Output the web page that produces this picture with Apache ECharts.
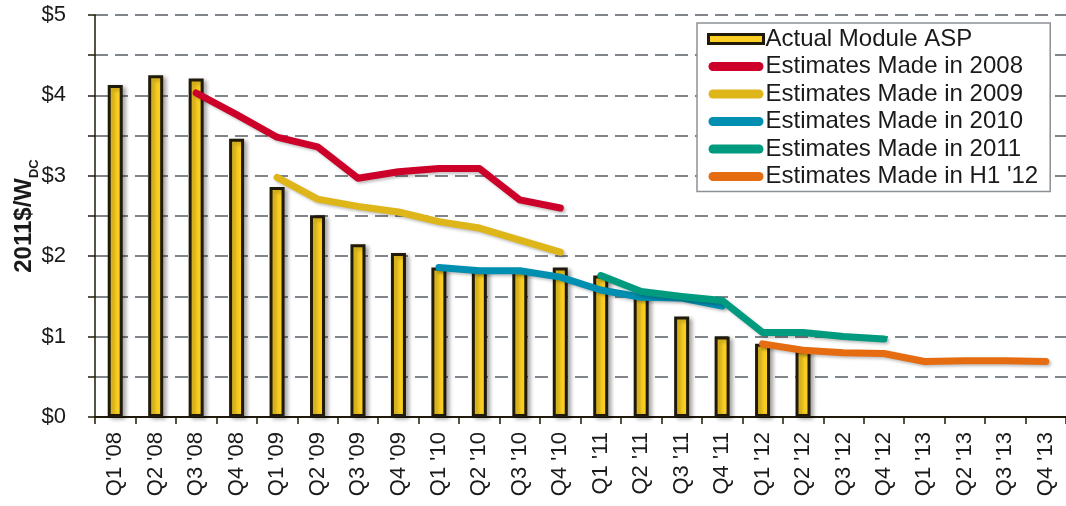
<!DOCTYPE html>
<html>
<head>
<meta charset="utf-8">
<script src="https://cdn.jsdelivr.net/npm/echarts@6/dist/echarts.min.js"></script>
<style>
html,body{margin:0;padding:0;background:#fff;}
#chart{width:1066px;height:506px;}
</style>
</head>
<body>
<div id="chart"></div>
<script>
var categories = ["Q1 '08","Q2 '08","Q3 '08","Q4 '08","Q1 '09","Q2 '09","Q3 '09","Q4 '09","Q1 '10","Q2 '10","Q3 '10","Q4 '10","Q1 '11","Q2 '11","Q3 '11","Q4 '11","Q1 '12","Q2 '12","Q3 '12","Q4 '12","Q1 '13","Q2 '13","Q3 '13","Q4 '13"];
var actualASP = [4.13,4.25,4.21,3.46,2.86,2.51,2.15,2.04,1.86,1.83,1.83,1.86,1.76,1.52,1.25,1.00,0.91,0.83,null,null,null,null,null,null];
var est2008 = [null,null,4.03,3.76,3.48,3.36,2.97,3.05,3.09,3.09,2.70,2.60,null,null,null,null,null,null,null,null,null,null,null,null];
var est2009 = [null,null,null,null,2.98,2.71,2.62,2.55,2.43,2.35,2.20,2.05,null,null,null,null,null,null,null,null,null,null,null,null];
var est2010 = [null,null,null,null,null,null,null,null,1.86,1.82,1.82,1.74,1.58,1.49,1.48,1.38,null,null,null,null,null,null,null,null];
var est2011 = [null,null,null,null,null,null,null,null,null,null,null,null,1.76,1.56,1.50,1.45,1.05,1.05,1.00,0.97,null,null,null,null];
var estH112 = [null,null,null,null,null,null,null,null,null,null,null,null,null,null,null,null,0.91,0.83,0.80,0.79,0.69,0.70,0.70,0.69];
var yTicks = [0,1,2,3,4,5];
var seriesNames = ['Actual Module ASP','Estimates Made in 2008','Estimates Made in 2009','Estimates Made in 2010','Estimates Made in 2011',"Estimates Made in H1 '12"];
var lineColors = ['#cc0029','#dfb61a','#008fb1','#009b7e','#e56c10'];

var FONT = "'Liberation Sans', Arial, sans-serif";
var TXT = '#1a1a1a';
var capsule = 'path://M4.5,0 L50.5,0 A4.5,4.5 0 0 1 50.5,9 L4.5,9 A4.5,4.5 0 0 1 4.5,0 Z';

function lineSeries(name, data, color) {
  return {
    name: name, type: 'line', data: data, symbol: 'none', connectNulls: false,
    lineStyle: {color: color, width: 7, cap: 'round', join: 'round',
      shadowColor: 'rgba(0,0,0,0.25)', shadowBlur: 3, shadowOffsetX: 2, shadowOffsetY: 2},
    itemStyle: {color: color}, z: 3
  };
}

var chart = echarts.init(document.getElementById('chart'), null, {renderer: 'canvas'});
var legendData = [{name: seriesNames[0], icon: 'rect', itemStyle: {color: '#fcd022', borderColor: '#1f1a0a', borderWidth: 3}}];
for (var i = 0; i < 5; i++) legendData.push({name: seriesNames[i + 1], icon: capsule, itemStyle: {color: lineColors[i]}});

chart.setOption({
  animation: false,
  backgroundColor: '#ffffff',
  textStyle: {fontFamily: FONT},
  grid: {left: 95, right: 0, top: 15, bottom: 89, containLabel: false, outerBoundsMode: 'none'},
  legend: {
    orient: 'vertical', left: 697, top: 23,
    data: legendData,
    itemWidth: 55, itemHeight: 9, itemGap: 3.5,
    padding: [4, 12, 3, 10],
    borderColor: '#8c9196', borderWidth: 1.5, backgroundColor: '#fff',
    textStyle: {fontSize: 24, color: TXT, fontFamily: FONT, padding: [0, 0, 0, -3]}
  },
  xAxis: {
    type: 'category', data: categories, boundaryGap: true,
    axisLine: {lineStyle: {color: '#1f1a0a', width: 2}},
    axisTick: {show: true, alignWithLabel: false, length: 7, lineStyle: {color: '#1f1a0a', width: 1.5}},
    axisLabel: {rotate: 90, fontSize: 22, color: TXT, margin: 15, interval: 0, fontFamily: FONT},
    splitLine: {show: false}
  },
  yAxis: {
    type: 'value', min: 0, max: 5, interval: 0.5,
    name: '{a|2011$/W}{b|DC}', nameLocation: 'middle', nameGap: 59, nameRotate: 90,
    nameMoveOverlap: false,
    nameTextStyle: {
      rich: {
        a: {fontSize: 24, fontWeight: 'bold', color: TXT, fontFamily: FONT, lineHeight: 28, verticalAlign: 'bottom'},
        b: {fontSize: 13, fontWeight: 'bold', color: TXT, fontFamily: FONT, lineHeight: 28, verticalAlign: 'bottom', padding: [0, 0, -5, 0]}
      }
    },
    axisLine: {show: true, lineStyle: {color: '#1f1a0a', width: 1.5}},
    axisTick: {show: true, length: 7, lineStyle: {color: '#1f1a0a', width: 1.5}},
    axisLabel: {
      fontSize: 22, color: TXT, margin: 29, fontFamily: FONT,
      formatter: function (v) { return yTicks.indexOf(v) >= 0 ? '$' + v : ''; }
    },
    splitLine: {show: true, lineStyle: {color: '#80858c', width: 2, type: [13, 7]}}
  },
  series: [
    {
      name: seriesNames[0], type: 'bar', data: actualASP, barWidth: 15, z: 2,
      itemStyle: {color: '#fcd022', borderColor: '#1f1a0a', borderWidth: 3,
        shadowColor: 'rgba(0,0,0,0.3)', shadowBlur: 4, shadowOffsetX: 3, shadowOffsetY: 2}
    },
    lineSeries(seriesNames[1], est2008, lineColors[0]),
    lineSeries(seriesNames[2], est2009, lineColors[1]),
    lineSeries(seriesNames[3], est2010, lineColors[2]),
    lineSeries(seriesNames[4], est2011, lineColors[3]),
    lineSeries(seriesNames[5], estH112, lineColors[4])
  ]
});
</script>
</body>
</html>
